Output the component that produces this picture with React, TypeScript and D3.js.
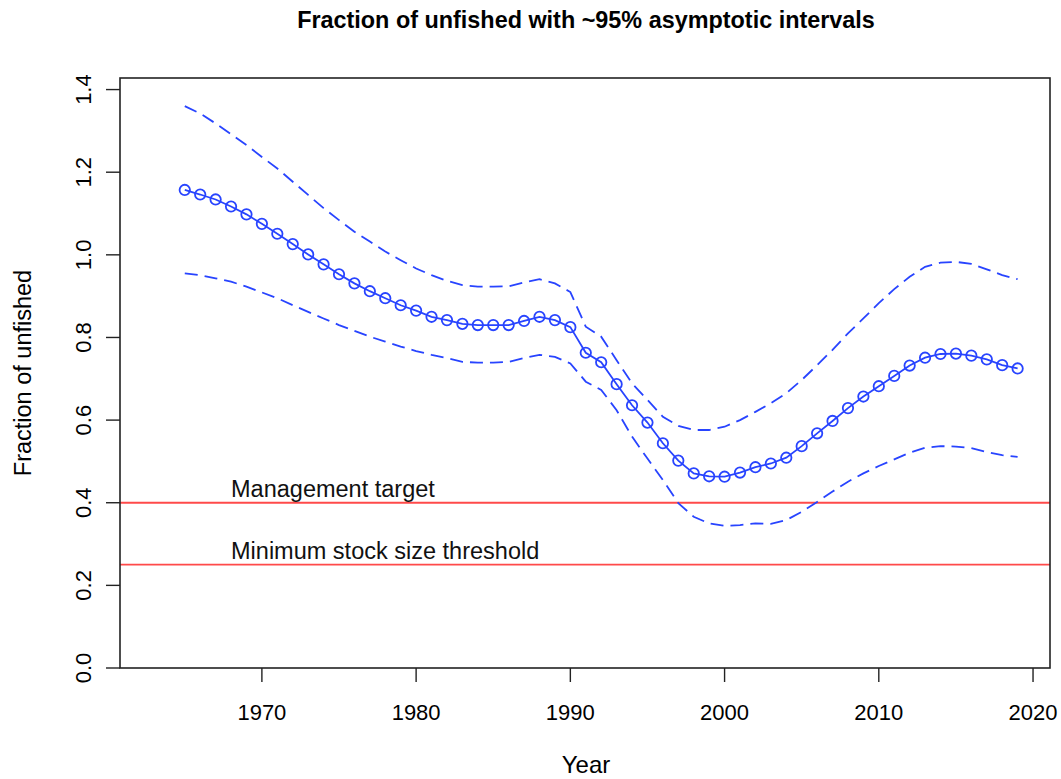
import * as d3 from "d3";

const years = d3.range(1965, 2020);

const estimate = [
  1.157, 1.146, 1.134, 1.117, 1.098, 1.075, 1.051, 1.026, 1.001, 0.977,
  0.953, 0.931, 0.912, 0.895, 0.878, 0.865, 0.85, 0.842, 0.833, 0.83,
  0.83, 0.83, 0.84, 0.85, 0.842, 0.825, 0.763, 0.74, 0.687, 0.636,
  0.594, 0.544, 0.502, 0.471, 0.464, 0.463, 0.473, 0.486, 0.495, 0.509,
  0.537, 0.568, 0.598, 0.629, 0.657, 0.682, 0.707, 0.732, 0.751, 0.76,
  0.761, 0.756, 0.747, 0.733, 0.725,
];

const upper = [
  1.36, 1.342, 1.318, 1.292, 1.266, 1.237, 1.209, 1.177, 1.145, 1.113,
  1.084, 1.056, 1.032, 1.008, 0.987, 0.967, 0.951, 0.937, 0.927, 0.923,
  0.923, 0.924, 0.933, 0.941, 0.931, 0.91, 0.826, 0.802, 0.745, 0.689,
  0.649, 0.608, 0.586, 0.576, 0.576, 0.584, 0.6, 0.62, 0.641, 0.665,
  0.697, 0.733, 0.77, 0.81, 0.846, 0.883, 0.917, 0.947, 0.971, 0.981,
  0.983, 0.978, 0.965, 0.951, 0.941,
];

const lower = [
  0.955, 0.951, 0.943, 0.935, 0.923, 0.909, 0.895, 0.878, 0.862, 0.846,
  0.83, 0.816, 0.802, 0.79, 0.778, 0.767, 0.758, 0.75, 0.741, 0.739,
  0.739, 0.741, 0.75, 0.758, 0.753, 0.737, 0.693, 0.673, 0.624, 0.56,
  0.507, 0.455, 0.399, 0.366, 0.35, 0.344, 0.346, 0.35, 0.349, 0.358,
  0.378, 0.402, 0.427, 0.451, 0.471, 0.489, 0.505, 0.521, 0.533, 0.537,
  0.536, 0.532, 0.523, 0.515, 0.511,
];

const xTicks = [1970, 1980, 1990, 2000, 2010, 2020];
const yTicks = [0, 0.2, 0.4, 0.6, 0.8, 1.0, 1.2, 1.4];

const refLines = [
  { value: 0.4, label: "Management target" },
  { value: 0.25, label: "Minimum stock size threshold" },
];

const W = 1061;
const H = 779;
const box = { left: 120, right: 1050, top: 78, bottom: 668 };
const font = "'Liberation Sans', Arial, sans-serif";
const blue = "#2844ff";

export default function App() {
  const x = d3.scaleLinear().domain([1960.8, 2021.1]).range([box.left, box.right]);
  const y = d3.scaleLinear().domain([0, 1.428]).range([box.bottom, box.top]);

  const line = d3
    .line<number>()
    .x((_, i) => x(years[i]))
    .y((d) => y(d));

  return (
    <svg
      width={W}
      height={H}
      style={{ position: "absolute", left: 0, top: 0, background: "#fff" }}
      fontFamily={font}
    >
      <text x={586} y={28} textAnchor="middle" fontWeight="bold" fontSize={23.4}>
        Fraction of unfished with ~95% asymptotic intervals
      </text>

      {/* reference lines */}
      {refLines.map((r) => (
        <g key={r.label}>
          <line
            x1={box.left}
            x2={box.right}
            y1={y(r.value)}
            y2={y(r.value)}
            stroke="#ff4a4a"
            strokeWidth={1.8}
          />
          <text x={x(1968)} y={y(r.value) - 6} fontSize={23.5} fill="#111">
            {r.label}
          </text>
        </g>
      ))}

      {/* interval lines */}
      {[upper, lower].map((s, k) => (
        <path
          key={k}
          d={line(s) ?? ""}
          fill="none"
          stroke={blue}
          strokeWidth={1.8}
          strokeDasharray="13,7"
        />
      ))}

      <path d={line(estimate) ?? ""} fill="none" stroke={blue} strokeWidth={1.8} />
      {estimate.map((v, i) => (
        <circle
          key={years[i]}
          cx={x(years[i])}
          cy={y(v)}
          r={5.2}
          fill="none"
          stroke={blue}
          strokeWidth={1.8}
        />
      ))}

      {/* box */}
      <rect
        x={box.left}
        y={box.top}
        width={box.right - box.left}
        height={box.bottom - box.top}
        fill="none"
        stroke="#222"
        strokeWidth={1.6}
      />

      {/* x axis */}
      {xTicks.map((t) => (
        <g key={t}>
          <line x1={x(t)} x2={x(t)} y1={box.bottom} y2={box.bottom + 14} stroke="#222" strokeWidth={1.4} />
          <text x={x(t)} y={720} textAnchor="middle" fontSize={22}>
            {t}
          </text>
        </g>
      ))}
      <text x={586} y={773} textAnchor="middle" fontSize={24}>
        Year
      </text>

      {/* y axis */}
      {yTicks.map((t) => (
        <g key={t}>
          <line x1={box.left - 14} x2={box.left} y1={y(t)} y2={y(t)} stroke="#222" strokeWidth={1.4} />
          <text
            transform={`translate(91,${y(t)}) rotate(-90)`}
            textAnchor="middle"
            fontSize={22}
          >
            {t.toFixed(1)}
          </text>
        </g>
      ))}
      <text
        transform={`translate(31,${(box.top + box.bottom) / 2}) rotate(-90)`}
        textAnchor="middle"
        fontSize={23.5}
      >
        Fraction of unfished
      </text>
    </svg>
  );
}
